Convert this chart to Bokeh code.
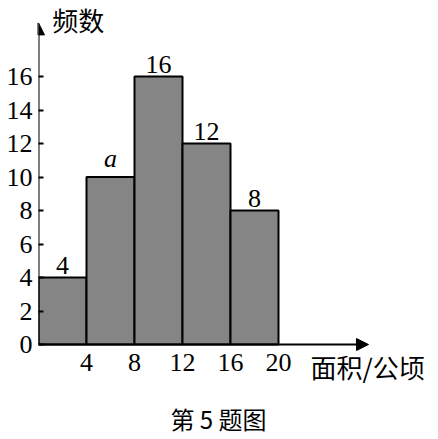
from bokeh.plotting import figure
from bokeh.models import Range1d, FixedTicker, Arrow, NormalHead, Label, ColumnDataSource
from bokeh.core.properties import value
from bokeh.embed import file_html
from bokeh.resources import INLINE

# ---------- data ----------
bin_left = [0, 4, 8, 12, 16]
bin_right = [4, 8, 12, 16, 20]
counts = [4, 10, 16, 12, 8]
bar_labels = ["4", "a", "16", "12", "8"]
y_ticks = [0, 2, 4, 6, 8, 10, 12, 14, 16]
x_ticks = [4, 8, 12, 16, 20]

SERIF = "Liberation Serif"
CJK = "Noto Sans CJK SC"
PX_X = 12.0      # pixels per x unit
PX_Y = 16.75     # pixels per y unit
W, H = 426, 437
LEFT = 38        # frame left edge (y axis position)
ZERO = 344       # pixel row of y = 0

src = ColumnDataSource(dict(
    left=bin_left, right=bin_right, top=counts,
    mid=[(a + b) / 2 for a, b in zip(bin_left, bin_right)],
    lab=bar_labels,
    style=["normal", "italic", "normal", "normal", "normal"],
))

p = figure(width=W, height=H, output_backend="svg", toolbar_location=None,
           x_range=Range1d(0, (W - LEFT) / PX_X),
           y_range=Range1d(-(H - ZERO) / PX_Y, ZERO / PX_Y),
           min_border_left=LEFT, min_border_right=0, min_border_top=0, min_border_bottom=0)
p.outline_line_color = None
p.grid.visible = False
p.background_fill_color = "white"

p.quad(left="left", right="right", top="top", bottom=0, source=src,
       fill_color="#858585", line_color="black", line_width=2)

# labels above bars (the 'a' is italic)
p.text(x="mid", y="top", text="lab", source=src, text_align="center", text_baseline="bottom",
       y_offset=-4, text_font=value(SERIF), text_font_size="26px", text_color="black",
       text_font_style="style")

# axes
xa = p.xaxis[0]
xa.fixed_location = 0
xa.ticker = FixedTicker(ticks=x_ticks)
xa.axis_line_color = None
xa.major_tick_in = 0
xa.major_tick_out = 0
xa.minor_tick_line_color = None
xa.major_label_standoff = 9
xa.major_label_text_font = SERIF
xa.major_label_text_font_size = "26px"
xa.major_label_text_color = "black"

ya = p.yaxis[0]
ya.ticker = FixedTicker(ticks=y_ticks)
ya.axis_line_color = None
ya.major_tick_in = 5
ya.major_tick_out = 0
ya.major_tick_line_width = 2
ya.major_tick_line_color = "black"
ya.minor_tick_line_color = None
ya.major_label_standoff = 6
ya.major_label_text_font = SERIF
ya.major_label_text_font_size = "26px"
ya.major_label_text_color = "black"

# arrow axes
p.add_layout(Arrow(x_start=0, y_start=0, x_end=27.5, y_end=0, line_width=2,
                   end=NormalHead(size=12, fill_color="black", line_color="black")))
p.add_layout(Arrow(x_start=0, y_start=0, x_end=0, y_end=19.2, line_width=2,
                   end=NormalHead(size=12, fill_color="black", line_color="black")))

p.add_layout(Label(x=1.15, y=19.43, text="频数", text_font=CJK, text_font_size="26px",
                   text_baseline="middle", text_color="black"))
p.add_layout(Label(x=22.67, y=-1.3, text="面积/公顷", text_font=CJK, text_font_size="26px",
                   text_baseline="middle", text_color="black"))
p.add_layout(Label(x=15, y=-4.42, text="第 5 题图", text_font=CJK, text_font_size="24px",
                   text_align="center", text_baseline="middle", text_color="black"))

open("out.html", "w").write(file_html(p, INLINE))
